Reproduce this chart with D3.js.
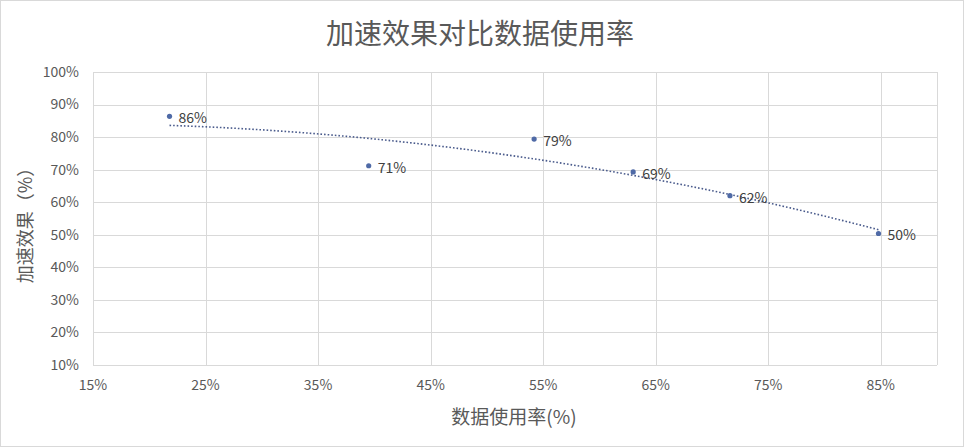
<!DOCTYPE html>
<html><head><meta charset="utf-8">
<script src="https://cdn.jsdelivr.net/npm/d3@7"></script>
<style>
html,body{margin:0;padding:0;background:#fff;}
svg text{font-family:"Noto Sans CJK SC","Noto Sans",sans-serif;}
</style></head>
<body><svg id="c" width="964" height="447"></svg>
<script>
const usage = [0.218, 0.395, 0.542, 0.630, 0.716, 0.848];
const speedup = [0.864, 0.712, 0.794, 0.693, 0.620, 0.504];
const xTicks = [0.15, 0.25, 0.35, 0.45, 0.55, 0.65, 0.75, 0.85];
const yTicks = [0.1,0.2,0.3,0.4,0.5,0.6,0.7,0.8,0.9,1.0];
const title = "加速效果对比数据使用率";
const xTitle = "数据使用率(%)";
const yTitle = "加速效果（%）";

const svg = d3.select("#c");
svg.append("rect").attr("x",0.5).attr("y",0.5).attr("width",963).attr("height",446)
  .attr("fill","#fff").attr("stroke","#d9d9d9");

const x = d3.scaleLinear().domain([0.15,0.90]).range([93,937]);
const y = d3.scaleLinear().domain([0.1,1.0]).range([365,72]);
const fmt = d3.format(".0%");

// grid
const g = svg.append("g");
g.selectAll(".gy").data(yTicks).join("line")
  .attr("x1",x.range()[0]).attr("x2",x.range()[1])
  .attr("y1",d=>Math.round(y(d))+0.5).attr("y2",d=>Math.round(y(d))+0.5)
  .attr("stroke","#d9d9d9");
g.selectAll(".gx").data(xTicks.concat([0.90])).join("line")
  .attr("y1",y.range()[0]).attr("y2",y.range()[1])
  .attr("x1",d=>Math.round(x(d))+0.5).attr("x2",d=>Math.round(x(d))+0.5)
  .attr("stroke","#d9d9d9");

// tick labels
svg.selectAll(".yl").data(yTicks).join("text")
  .attr("x",79).attr("y",d=>y(d)).attr("dy","0.35em").attr("text-anchor","end")
  .attr("font-size",14).attr("fill","#595959").text(fmt);
svg.selectAll(".xl").data(xTicks).join("text")
  .attr("x",d=>x(d)).attr("y",390).attr("text-anchor","middle")
  .attr("font-size",14).attr("fill","#595959").text(fmt);

// titles
svg.append("text").attr("x",480).attr("y",44).attr("text-anchor","middle")
  .attr("font-size",28).attr("fill","#595959").text(title);
svg.append("text").attr("x",514).attr("y",424).attr("text-anchor","middle")
  .attr("font-size",19).attr("fill","#595959").text(xTitle);
svg.append("text").attr("transform","translate(32,221) rotate(-90)").attr("text-anchor","middle")
  .attr("font-size",18).attr("fill","#595959").text(yTitle);

// quadratic least squares trendline
function quadFit(xs, ys){
  let n=xs.length,S=[0,0,0,0,0],T=[0,0,0];
  for(let i=0;i<n;i++){const a=xs[i];for(let k=0;k<5;k++)S[k]+=Math.pow(a,k);for(let k=0;k<3;k++)T[k]+=ys[i]*Math.pow(a,k);}
  const M=[[S[0],S[1],S[2],T[0]],[S[1],S[2],S[3],T[1]],[S[2],S[3],S[4],T[2]]];
  for(let i=0;i<3;i++){for(let j=i+1;j<3;j++){const f=M[j][i]/M[i][i];for(let k=i;k<4;k++)M[j][k]-=f*M[i][k];}}
  const c=[0,0,0];
  for(let i=2;i>=0;i--){let s=M[i][3];for(let k=i+1;k<3;k++)s-=M[i][k]*c[k];c[i]=s/M[i][i];}
  return v=>c[0]+c[1]*v+c[2]*v*v;
}
const f = quadFit(usage, speedup);
const xs = d3.range(0,41).map(i=>d3.min(usage)+(d3.max(usage)-d3.min(usage))*i/40);
svg.append("path").datum(xs)
  .attr("d",d3.line().x(d=>x(d)).y(d=>y(f(d))))
  .attr("fill","none").attr("stroke","#4a5b8c").attr("stroke-width",1.6)
  .attr("stroke-dasharray","1.6,2");

// points
const pts = usage.map((u,i)=>({u,s:speedup[i]}));
svg.selectAll(".pt").data(pts).join("circle")
  .attr("cx",d=>x(d.u)).attr("cy",d=>y(d.s)).attr("r",2.6).attr("fill","#4f6aa6");
svg.selectAll(".lb").data(pts).join("text")
  .attr("x",d=>x(d.u)+9).attr("y",d=>y(d.s)+2).attr("dy","0.35em")
  .attr("font-size",14).attr("fill","#404040").text(d=>fmt(d.s));
</script></body></html>
